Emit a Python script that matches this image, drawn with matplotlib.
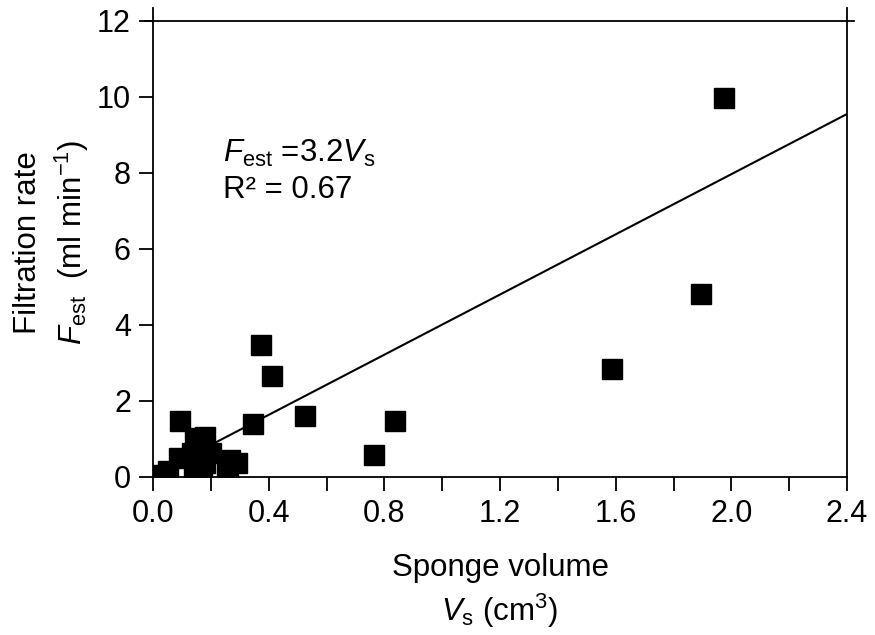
import matplotlib
matplotlib.use("Agg")
import matplotlib.pyplot as plt
from matplotlib.ticker import MultipleLocator, FormatStrFormatter

plt.rcParams["font.family"] = ["Liberation Sans", "DejaVu Sans"]
plt.rcParams["mathtext.fontset"] = "custom"
plt.rcParams["mathtext.rm"] = "Liberation Sans"
plt.rcParams["mathtext.it"] = "Liberation Sans:italic"

# sponge volume (cm3) and estimated filtration rate (ml/min)
volume = [0.013, 0.05, 0.09, 0.093, 0.135, 0.14, 0.145, 0.145, 0.17, 0.18,
          0.18, 0.2, 0.255, 0.26, 0.265, 0.29, 0.346, 0.374, 0.41, 0.526,
          0.765, 0.837, 1.588, 1.896, 1.976]
rate = [0.05, 0.15, 0.5, 1.48, 0.63, 0.1, 0.24, 1.03, 0.27, 1.06,
        0.37, 0.63, 0.1, 0.02, 0.45, 0.37, 1.40, 3.48, 2.66, 1.61,
        0.58, 1.48, 2.85, 4.80, 9.97]

# fitted line as drawn in the figure
fit_x = [0.0, 2.4]
fit_y = [0.05, 9.55]

fig = plt.figure(figsize=(8.75, 6.35), dpi=100)
ax = fig.add_axes([0.175, 0.249, 0.793, 0.739])

ax.plot(fit_x, fit_y, color="black", lw=1.5, zorder=2)
ax.plot(volume, rate, "s", color="black", ms=15, mec="black", zorder=3)

ax.set_xlim(0, 2.4)
ax.set_ylim(0, 12.35)
ax.xaxis.set_major_locator(MultipleLocator(0.4))
ax.xaxis.set_minor_locator(MultipleLocator(0.2))
ax.set_yticks([0, 2, 4, 6, 8, 10, 12])
ax.xaxis.set_major_formatter(FormatStrFormatter("%.1f"))
ax.tick_params(axis="both", which="both", direction="out", length=10, width=1.3,
               labelsize=22, pad=6, top=False, right=False)

ax.spines["top"].set_visible(False)
for s in ["left", "right", "bottom"]:
    ax.spines[s].set_linewidth(1.3)
ax.plot([-0.012, 1.01], [12, 12], color="black", lw=1.3,
        transform=ax.get_yaxis_transform(), clip_on=False)

ax.set_xlabel("Sponge volume\n$V_{\\mathrm{s}}$ (cm$^{\\mathrm{3}}$)", fontsize=22.5,
              linespacing=1.3, labelpad=17)
ax.set_ylabel("Filtration rate\n$F_{\\mathrm{est}}$  (ml min$^{\\mathrm{-1}}$)", fontsize=22.5,
              linespacing=1.35, labelpad=4)

ax.text(0.24, 8.5, "$F_{\\mathrm{est}}$ =3.2$V_{\\mathrm{s}}$", fontsize=22.5, va="center")
ax.text(0.24, 7.55, "R² = 0.67", fontsize=22.5, va="center")

fig.savefig("out.png", dpi=100)
